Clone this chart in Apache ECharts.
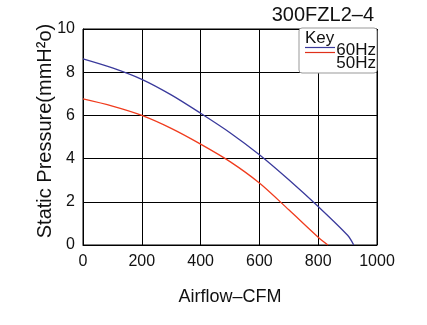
<!DOCTYPE html>
<html><head><meta charset="utf-8">
<script src="https://cdn.jsdelivr.net/npm/echarts@6/dist/echarts.min.js"></script>
<style>html,body{margin:0;padding:0;background:#fff}#c{width:427px;height:325px}</style>
</head><body><div id="c"></div>
<script>
const chartTitle = "300FZL2\u20134";
const xName = "Airflow\u2013CFM";
const yName = "Static Pressure(mmH\u00B2o)";
const xTicks = [0, 200, 400, 600, 800, 1000];
const yTicks = [0, 2, 4, 6, 8, 10];
const seriesNames = ["60Hz", "50Hz"];
const hz60 = [[0,8.62],[100,8.2],[200,7.67],[300,6.95],[400,6.1],[500,5.2],[600,4.18],[700,3.02],[800,1.78],[900,0.45],[921,0]];
const hz50 = [[0,6.76],[100,6.43],[200,6.0],[300,5.4],[400,4.67],[500,3.86],[600,2.87],[700,1.63],[800,0.36],[833,0]];

const FONT = "Liberation Sans, Arial, sans-serif";
const chart = echarts.init(document.getElementById('c'));
chart.setOption({
  animation: false,
  backgroundColor: '#fff',
  textStyle: {fontFamily: FONT},
  title: {text: chartTitle, right: 48, top: 0, textStyle: {fontSize: 20, fontWeight: 'normal', color: '#111', fontFamily: FONT}},
  grid: {left: 83, right: 50, top: 29, bottom: 80, show: true, borderColor: '#000', borderWidth: 1},
  xAxis: {
    type: 'value', min: xTicks[0], max: xTicks[xTicks.length-1], interval: 200,
    name: xName, nameLocation: 'middle', nameGap: 43,
    nameTextStyle: {fontSize: 18, color: '#111', fontFamily: FONT},
    axisLine: {lineStyle: {color: '#000', width: 1}}, axisTick: {show: false},
    axisLabel: {fontSize: 16, color: '#111', margin: 9, fontFamily: FONT, formatter: v => String(v)},
    splitLine: {lineStyle: {color: '#000', width: 1}}
  },
  yAxis: {
    type: 'value', min: yTicks[0], max: yTicks[yTicks.length-1], interval: 2,
    axisLine: {show: true, lineStyle: {color: '#000', width: 1}}, axisTick: {show: false},
    axisLabel: {fontSize: 16, color: '#111', margin: 8, fontFamily: FONT, formatter: v => String(v)},
    splitLine: {lineStyle: {color: '#000', width: 1}}
  },
  series: [
    {name: seriesNames[0], type: 'line', data: hz60, smooth: 0.3, showSymbol: false, lineStyle: {color: '#3a3a9c', width: 1.3}, z: 3},
    {name: seriesNames[1], type: 'line', data: hz50, smooth: 0.3, showSymbol: false, lineStyle: {color: '#f03c1e', width: 1.3}, z: 3}
  ],
  graphic: [
    {type: 'text', x: 45, y: 131, rotation: Math.PI/2, style: {text: yName, font: '20px ' + FONT, fill: '#111', align: 'center', verticalAlign: 'middle'}},
    {type: 'rect', z: 10, shape: {x: 299, y: 28, width: 78, height: 45, r: 3}, style: {fill: '#fff', stroke: '#999', lineWidth: 1}},
    {type: 'text', z: 11, x: 305, y: 38.5, style: {text: 'Key', font: '17px ' + FONT, fill: '#111', verticalAlign: 'middle'}},
    {type: 'line', z: 11, shape: {x1: 305, y1: 47.5, x2: 335, y2: 47.5}, style: {stroke: '#3a3a9c', lineWidth: 1.2}},
    {type: 'line', z: 11, shape: {x1: 305, y1: 52.5, x2: 335, y2: 52.5}, style: {stroke: '#e0301a', lineWidth: 1.2}},
    {type: 'text', z: 11, x: 376, y: 50.5, style: {text: seriesNames[0], font: '17px ' + FONT, fill: '#111', align: 'right', verticalAlign: 'middle'}},
    {type: 'text', z: 11, x: 376, y: 63.5, style: {text: seriesNames[1], font: '17px ' + FONT, fill: '#111', align: 'right', verticalAlign: 'middle'}}
  ]
});
</script></body></html>
